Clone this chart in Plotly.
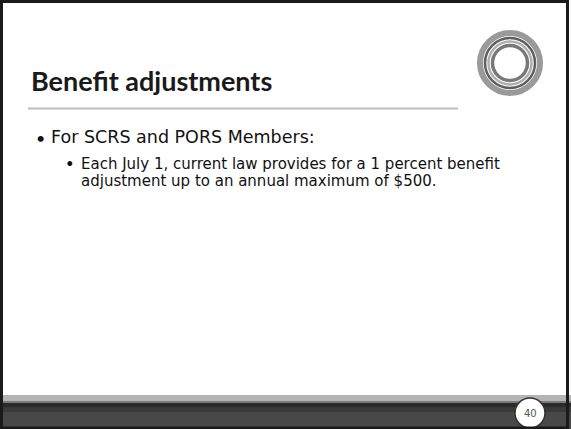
import plotly.graph_objects as go

W, H = 571, 429

title_text = "Benefit adjustments"
bullet1_text = "For SCRS and PORS Members:"
bullet2_lines = [
    "Each July 1, current law provides for a 1 percent benefit",
    "adjustment up to an annual maximum of $500.",
]
page_number = "40"

TITLE_FONT = "Lato"
BODY_FONT = "DejaVu Sans"

fig = go.Figure()
fig.add_trace(go.Scatter(x=[0, W], y=[0, H], mode="markers", marker=dict(opacity=0), hoverinfo="skip", showlegend=False))

shapes = []
bar_layers = [
    (395, 401, "#b4b4b4"),
    (401, 403, "#7a7a7a"),
    (403, 407, "#2a2a2a"),
    (407, 412, "#3a3a3a"),
    (412, 429, "#484848"),
]
for y0, y1, c in bar_layers:
    shapes.append(dict(type="rect", x0=0, x1=W, y0=y0, y1=y1, fillcolor=c, line=dict(width=0), layer="below"))

shapes.append(dict(type="line", x0=28, x1=458, y0=108.5, y1=108.5, line=dict(color="#bdbdbd", width=2)))

cx, cy = 510, 63
rings = [
    (30, 6, "#9a9a9a"),
    (25, 2.5, "#5e5e5e"),
    (21.5, 2.5, "#b0b0b0"),
    (17.5, 3.5, "#787878"),
]
for r, w, c in rings:
    shapes.append(dict(type="circle", x0=cx - r, x1=cx + r, y0=cy - r, y1=cy + r, line=dict(color=c, width=w)))

pr = 15
px_, py_ = 530, 413
shapes.append(dict(type="circle", x0=px_ - pr, x1=px_ + pr, y0=py_ - pr, y1=py_ + pr, fillcolor="white", line=dict(color="#333333", width=1.5)))

shapes.append(dict(type="rect", x0=1.5, x1=W - 3.5, y0=1.5, y1=H - 1, line=dict(color="#1a1a1a", width=3)))

annotations = []
annotations.append(dict(x=29, y=80, text="<b>" + title_text + "</b>", showarrow=False, xanchor="left", yanchor="middle",
                        font=dict(family=TITLE_FONT, size=27, color="#1a1a1a")))
annotations.append(dict(x=34, y=137, text="•", showarrow=False, xanchor="left", yanchor="middle",
                        font=dict(family=TITLE_FONT, size=16, color="#111111")))
annotations.append(dict(x=49, y=137, text=bullet1_text, showarrow=False, xanchor="left", yanchor="middle",
                        font=dict(family=BODY_FONT, size=17.5, color="#111111")))
annotations.append(dict(x=64, y=163, text="•", showarrow=False, xanchor="left", yanchor="middle",
                        font=dict(family=TITLE_FONT, size=13, color="#111111")))
for i, line in enumerate(bullet2_lines):
    annotations.append(dict(x=79, y=163.5 + 17.5 * i, text=line, showarrow=False, xanchor="left", yanchor="middle",
                            font=dict(family=BODY_FONT, size=15, color="#111111")))
annotations.append(dict(x=px_, y=py_, text=page_number, showarrow=False, xanchor="center", yanchor="middle",
                        font=dict(family=BODY_FONT, size=10, color="#555555")))

fig.update_layout(
    width=W, height=H,
    margin=dict(l=0, r=0, t=0, b=0),
    paper_bgcolor="white", plot_bgcolor="white",
    xaxis=dict(range=[0, W], visible=False, fixedrange=True),
    yaxis=dict(range=[H, 0], visible=False, fixedrange=True),
    shapes=shapes, annotations=annotations,
    showlegend=False,
)
fig.write_html("out.html", config={"displayModeBar": False},
               post_script="document.body.style.margin='0';document.body.style.overflow='hidden';")
